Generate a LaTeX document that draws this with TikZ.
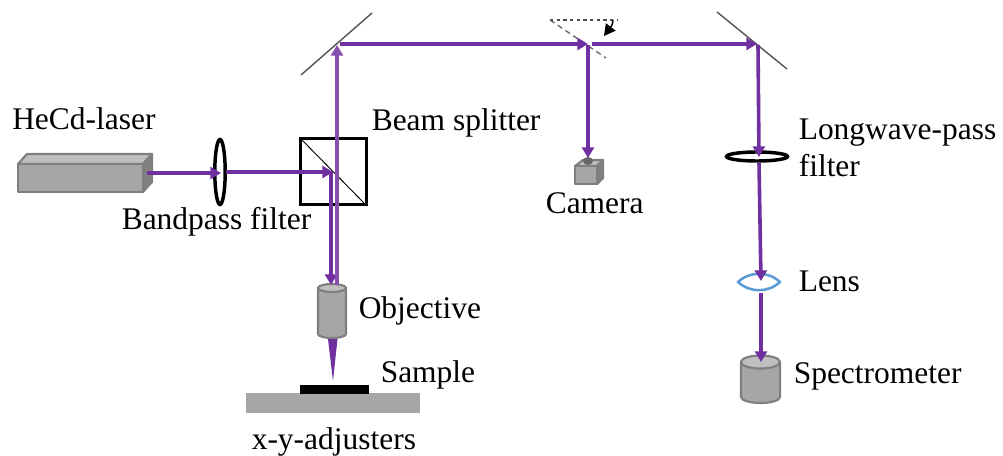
\documentclass[tikz,border=0pt]{standalone}
\usepackage{fontspec}
\setmainfont{Liberation Serif}
\usetikzlibrary{arrows.meta}
\definecolor{beam}{HTML}{7030A0}
\definecolor{dev}{HTML}{A6A6A6}
\definecolor{devedge}{HTML}{7F7F7F}
\definecolor{devtop}{HTML}{BFBFBF}
\definecolor{devside}{HTML}{808080}
\definecolor{lensblue}{HTML}{5B9BD5}
\tikzset{
  x=0.75pt,y=-0.75pt,
  label text/.style={anchor=base west,inner sep=0pt,font=\fontsize{23.6pt}{26pt}\selectfont},
  beamline/.style={draw=beam,line width=2.7pt,-{Triangle[length=8pt,width=9pt]}},
  housing/.style={fill=dev,draw=devedge,line width=1.6pt,line join=round},
  mirror/.style={draw=black!65,line width=1.1pt},
  opticring/.style={draw=black,line width=2.6pt,fill=none},
}
\begin{document}
\begin{tikzpicture}
\useasboundingbox (0,0) rectangle (1003,456);
% named points
\coordinate (laserout) at (147,173);
\coordinate (lensA) at (221,173);
\coordinate (lensB) at (226,172);
\coordinate (split) at (333,172);
\coordinate (splitdown) at (331,172);
\coordinate (objin) at (331,285);
\coordinate (objout) at (337,285);
\coordinate (mirrorLin) at (337,45);
\coordinate (mirrorLout) at (340,44);
\coordinate (flipin) at (588,44);
\coordinate (flipout) at (592,44);
\coordinate (flipdown) at (588,45);
\coordinate (caminput) at (588,158);
\coordinate (mirrorRin) at (757,44);
\coordinate (mirrorRdown) at (758,45);
\coordinate (lwin) at (759,157);
\coordinate (lwout) at (759,163);
\coordinate (lensin) at (761,281);
\coordinate (lensout) at (761,293);
\coordinate (specin) at (761,362);
% laser
\draw[housing,fill=devtop] (18,164)--(27,154)--(152,154)--(143,164)--cycle;
\draw[housing,fill=devside] (143,164)--(152,154)--(152,182)--(143,192)--cycle;
\draw[housing] (18,164) rectangle (143,192);
% bandpass lens
\draw[opticring] (220,172) ellipse (5.2 and 32.5);
% beam splitter
\draw[draw=black,line width=2.8pt] (300.5,138.5) rectangle (366.5,204.5);
\draw[black,line width=0.7pt] (302,140)--(365,204);
% objective
\draw[housing] (318,288) -- (318,334) arc[start angle=180,end angle=0,x radius=14,y radius=4] -- (346,288) -- cycle;
\draw[housing,fill=devtop] (332,288) ellipse (14 and 4);
\fill[beam] (328,339)--(337.5,339)--(333,381)--cycle;
% sample and stage
\fill[dev] (246,393) rectangle (420,413);
\fill[black] (300,385) rectangle (369,393.5);
% mirrors
\draw[mirror] (301,75)--(372,13);
\draw[mirror] (717,12)--(787,69);
% flip mirror
\draw[black!70,line width=0.9pt,dash pattern=on 2.5pt off 2.5pt] (550,20)--(617,20);
\draw[black!60,line width=1pt,dash pattern=on 4pt off 3pt] (550,20)--(606,58);
% camera
\draw[housing,fill=devtop] (575,166)--(583,160)--(603,160)--(597,166)--cycle;
\draw[housing,fill=devside] (597,166)--(603,160)--(603,178)--(597,184)--cycle;
\draw[housing] (575,166) rectangle (597,184);
\fill[black!60] (588,161) ellipse (5 and 4);
% longwave filter
\draw[opticring] (757,156.5) ellipse (30.5 and 4.5);
% lens
\draw[lensblue,line width=1.9pt,line join=round] (738,282) .. controls (750,271) and (768,271) .. (780,282) .. controls (768,293) and (750,293) .. (738,282) -- cycle;
% spectrometer
\draw[housing] (741,362) -- (741,397) arc[start angle=180,end angle=0,x radius=19.5,y radius=6] -- (780,362) -- cycle;
\draw[housing,fill=devtop] (760.5,362) ellipse (19.5 and 6.5);
% beams
\path[beamline] (laserout)--(lensA);
\path[beamline] (lensB)--(split);
\path[beamline] (splitdown)--(objin);
\path[beamline,draw=beam!85] (objout)--(mirrorLin);
\path[beamline] (mirrorLout)--(flipin);
\path[beamline] (flipout)--(mirrorRin);
\path[beamline] (flipdown)--(caminput);
\path[beamline] (mirrorRdown)--(lwin);
\path[beamline] (lwout)--(lensin);
\path[beamline] (lensout)--(specin);
% flip arrow
\coordinate (flipA) at (613,20);
\coordinate (flipB) at (604,36);
\draw[black,line width=1.1pt,-{Triangle[length=8.5pt,width=9pt]}] (flipA) .. controls (613,25) and (610,28) .. (flipB);
% labels
\node[label text] (tlaser) at (12,130) {HeCd-laser};
\node[label text] (tsplit) at (371.5,131) {Beam splitter};
\node[label text] (tband) at (121.5,229) {Bandpass filter};
\node[label text] (tcam) at (545.5,214) {Camera};
\node[label text] (tlw) at (798.5,140) {Longwave-pass};
\node[label text] (tfilter) at (798.5,177) {filter};
\node[label text] (tlens) at (798.5,291) {Lens};
\node[label text] (tobj) at (358.5,318) {Objective};
\node[label text] (tsample) at (380.5,382) {Sample};
\node[label text] (tspec) at (793.5,383) {Spectrometer};
\node[label text] (tadj) at (251.5,449) {x-y-adjusters};
\end{tikzpicture}
\end{document}
